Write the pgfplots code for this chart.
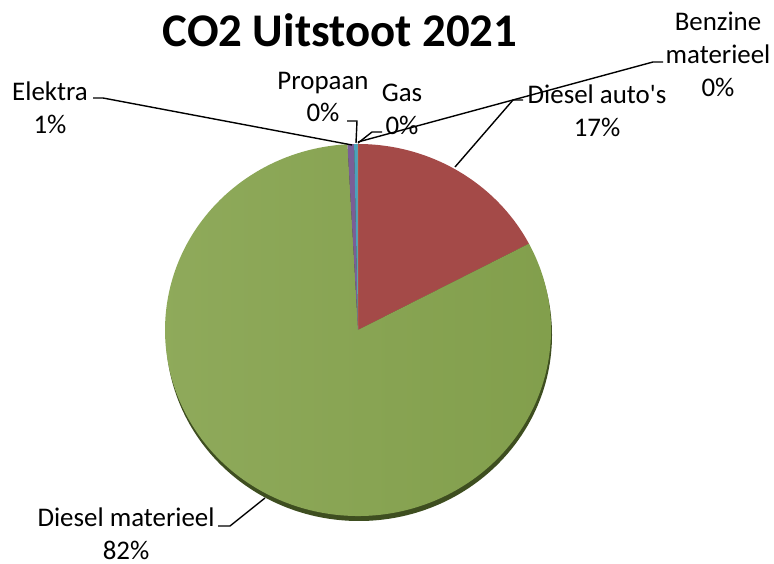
\documentclass[border=0pt]{standalone}
\usepackage{fontspec}
\setmainfont{Carlito}
\usepackage{pgfplots}
\usepackage{pgfplotstable}
\pgfplotsset{compat=1.18}

% Excel 2007 pie colours
\definecolor{cBenz}{HTML}{4F81BD}
\definecolor{cDauto}{HTML}{A44A48}
\definecolor{cDmatL}{HTML}{8FAA5B}
\definecolor{cDmatR}{HTML}{819E4B}
\definecolor{cElek}{HTML}{7A5E97}
\definecolor{cProp}{HTML}{4AA2BC}
\definecolor{cGas}{HTML}{F79646}
\definecolor{cShadow}{HTML}{3E4E20}

% CO2 share per source (percent)
\pgfplotstableread{
bron value
BenzineMaterieel 0.02
DieselAutos 17.3
DieselMaterieel 81.8
Elektra 0.55
Propaan 0.3
Gas 0.02
}\co

\tikzset{
  sBenz/.style={fill=cBenz},
  sDauto/.style={fill=cDauto},
  sDmat/.style={left color=cDmatL,right color=cDmatR},
  sElek/.style={fill=cElek},
  sProp/.style={fill=cProp},
  sGas/.style={fill=cGas},
  leader/.style={draw=black,line width=0.7bp},
  lbl/.style={font=\fontsize{13.5}{16.5}\selectfont,align=center,inner sep=0pt},
}

% pie centre and radii (axis units = reference pixels, 1 unit = 0.5bp)
\def\pcx{358}
\def\pcy{234}
\def\prx{193}
\def\pry{186}

\begin{document}
\begin{tikzpicture}
\gdef\cototal{0}
\foreach \i in {0,...,5}{%
  \pgfplotstablegetelem{\i}{value}\of\co
  \pgfmathsetmacro\tmpsum{\cototal+\pgfplotsretval}%
  \xdef\cototal{\tmpsum}}
\begin{axis}[
  scale only axis, disabledatascaling,
  width=387bp, height=282bp,
  xmin=0, xmax=774, ymin=0, ymax=564,
  hide axis, clip=false]
\addplot[draw=none] coordinates {(0,0) (774,564)};

\pgfplotsextra{
  % shadow under the pie
  \fill[cShadow] (axis cs:359,229) ellipse[x radius=0.5*\prx bp,y radius=0.5*\pry bp];
  \xdef\curang{90}
  \foreach \i/\s in {0/sBenz,1/sDauto,2/sDmat,3/sElek,4/sProp,5/sGas}{
    \pgfplotstablegetelem{\i}{value}\of\co
    \pgfmathsetmacro\sweep{360*(\pgfplotsretval/\cototal)}
    \pgfmathsetmacro\endang{\curang-\sweep}
    \pgfmathsetmacro\sx{\pcx+\prx*cos(\curang)}
    \pgfmathsetmacro\sy{\pcy+\pry*sin(\curang)}
    \path[\s] (axis cs:\pcx,\pcy) -- (axis cs:\sx,\sy)
      arc[start angle=\curang,end angle=\endang,x radius=0.5*\prx bp,y radius=0.5*\pry bp] -- cycle;
    \xdef\curang{\endang}
  }
}

% leader lines
\draw[leader] (axis cs:93,466) -- (axis cs:103,466) -- (axis cs:352,419);
\draw[leader] (axis cs:347,443) -- (axis cs:357,443) -- (axis cs:356,421);
\draw[leader] (axis cs:382,432) -- (axis cs:372,432) -- (axis cs:358,421);
\draw[leader] (axis cs:523,464) -- (axis cs:513,464) -- (axis cs:455,397);
\draw[leader] (axis cs:663,502) -- (axis cs:653,502) -- (axis cs:358,422);
\draw[leader] (axis cs:218,38) -- (axis cs:230,38) -- (axis cs:265,66);

% labels
\node[font=\fontsize{23.5}{28}\selectfont\bfseries,inner sep=0pt] at (axis cs:340,534) {CO2 Uitstoot 2021};
\node[lbl] at (axis cs:718,510) {Benzine\\materieel\\0\%};
\node[lbl] at (axis cs:597,453) {Diesel auto\textquotesingle s\\17\%};
\node[lbl] at (axis cs:402,455) {Gas\\0\%};
\node[lbl] at (axis cs:323,467) {Propaan\\0\%};
\node[lbl] at (axis cs:50,456) {Elektra\\1\%};
\node[lbl] at (axis cs:126,30) {Diesel materieel\\82\%};
\end{axis}
\pgfresetboundingbox
\useasboundingbox (0,0) rectangle (387bp,282bp);
\end{tikzpicture}
\end{document}
